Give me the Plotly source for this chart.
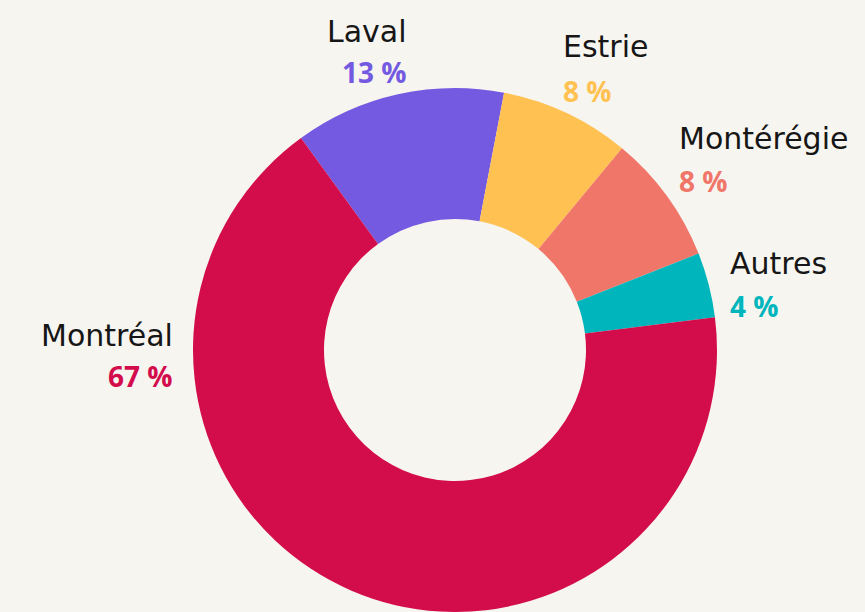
import plotly.graph_objects as go

# Data
regions = ["Laval", "Estrie", "Montérégie", "Autres", "Montréal"]
shares = [13, 8, 8, 4, 67]
pct_labels = ["13 %", "8 %", "8 %", "4 %", "67 %"]
colors = ["#735ae0", "#ffc252", "#f0766a", "#00b5bc", "#d30c4b"]

BG = "#f7f5f0"
W, H = 865, 612
NAME_FONT = "DejaVu Sans"
PCT_FONT = "Open Sans"

fig = go.Figure(go.Pie(
    labels=regions,
    values=shares,
    marker=dict(colors=colors, line=dict(width=0)),
    hole=0.5,
    sort=False,
    direction="clockwise",
    rotation=-36,
    textinfo="none",
    showlegend=False,
    domain=dict(x=[193 / W, 717 / W], y=[0, 524 / H]),
))

# label layout: (x anchor px, xanchor, name centre y px, pct centre y px)
label_pos = [
    (409, "right", 31, 72),
    (561, "left", 47, 91),
    (677, "left", 139, 181),
    (728, "left", 263, 306),
    (175, "right", 335, 376),
]

annotations = []
for name, pct, col, (x, xa, yn, yp) in zip(regions, pct_labels, colors, label_pos):
    annotations.append(dict(
        x=x / W, y=1 - yn / H, xref="paper", yref="paper",
        xanchor=xa, yanchor="middle", showarrow=False,
        text=name, font=dict(family=NAME_FONT, size=30, color="#161616"),
    ))
    annotations.append(dict(
        x=x / W, y=1 - yp / H, xref="paper", yref="paper",
        xanchor=xa, yanchor="middle", showarrow=False,
        text=pct, font=dict(family=PCT_FONT, size=28, color=col, weight=700),
    ))

fig.update_layout(
    width=W, height=H,
    margin=dict(l=0, r=0, t=0, b=0),
    paper_bgcolor=BG, plot_bgcolor=BG,
    annotations=annotations,
)

fig.write_html(
    "out.html",
    config={"displayModeBar": False},
    post_script="document.body.style.margin='0';document.body.style.background='" + BG + "';",
)
